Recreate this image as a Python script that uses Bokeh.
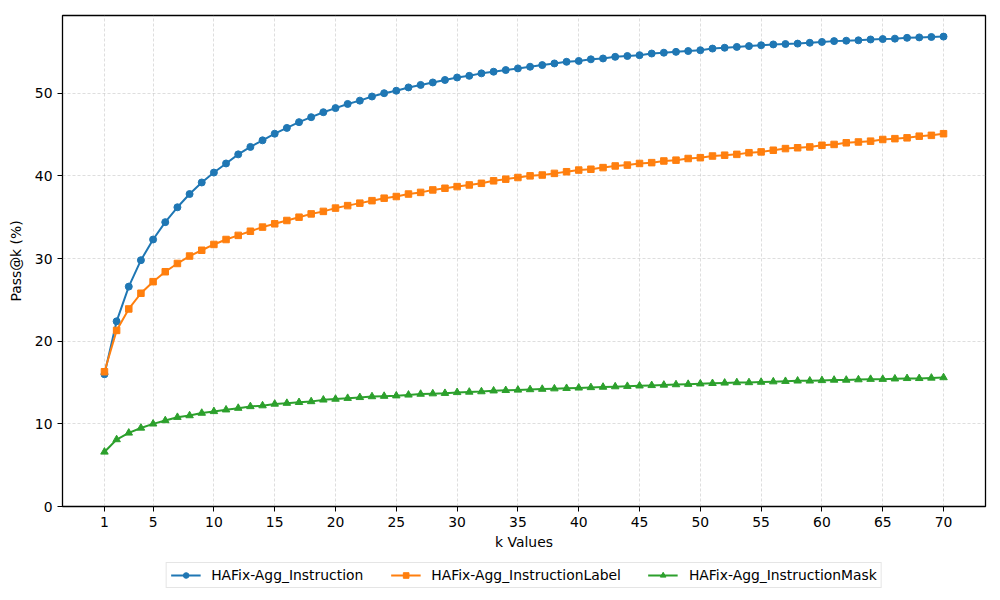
from bokeh.plotting import figure
from bokeh.layouts import column
from bokeh.models import Range1d, FixedTicker, Legend, LegendItem
from bokeh.embed import file_html
from bokeh.resources import INLINE

k_values = list(range(1, 71))

instruction = [16.0, 22.4, 26.6, 29.8, 32.3, 34.4, 36.2, 37.8, 39.2, 40.4,
               41.5, 42.6, 43.5, 44.3, 45.1, 45.8, 46.5, 47.1, 47.7, 48.2,
               48.7, 49.1, 49.6, 50.0, 50.3, 50.7, 51.0, 51.3, 51.6, 51.9,
               52.1, 52.4, 52.6, 52.8, 53.0, 53.2, 53.4, 53.6, 53.8, 53.9,
               54.1, 54.2, 54.4, 54.5, 54.6, 54.8, 54.9, 55.0, 55.1, 55.2,
               55.4, 55.5, 55.6, 55.7, 55.8, 55.9, 55.95, 56.0, 56.1, 56.2,
               56.3, 56.35, 56.4, 56.5, 56.55, 56.6, 56.7, 56.75, 56.8, 56.85]

instruction_label = [16.3, 21.3, 23.9, 25.8, 27.2, 28.4, 29.4, 30.3, 31.0, 31.7,
                     32.3, 32.8, 33.3, 33.8, 34.2, 34.6, 35.0, 35.4, 35.7, 36.1,
                     36.4, 36.7, 37.0, 37.3, 37.5, 37.8, 38.0, 38.3, 38.5, 38.7,
                     38.9, 39.1, 39.4, 39.6, 39.8, 40.0, 40.1, 40.3, 40.5, 40.7,
                     40.8, 41.0, 41.2, 41.3, 41.5, 41.6, 41.8, 41.9, 42.1, 42.2,
                     42.4, 42.5, 42.6, 42.8, 42.9, 43.1, 43.3, 43.4, 43.5, 43.7,
                     43.8, 44.0, 44.1, 44.2, 44.4, 44.5, 44.6, 44.8, 44.9, 45.1]

instruction_mask = [6.6, 8.1, 8.9, 9.5, 10.0, 10.4, 10.8, 11.0, 11.3, 11.5,
                    11.7, 11.9, 12.1, 12.2, 12.4, 12.5, 12.6, 12.7, 12.9, 13.0,
                    13.1, 13.2, 13.3, 13.35, 13.4, 13.5, 13.6, 13.65, 13.7, 13.8,
                    13.85, 13.9, 14.0, 14.05, 14.1, 14.15, 14.2, 14.25, 14.3, 14.35,
                    14.4, 14.45, 14.5, 14.55, 14.6, 14.65, 14.7, 14.75, 14.8, 14.85,
                    14.9, 14.95, 15.0, 15.0, 15.05, 15.1, 15.15, 15.2, 15.2, 15.25,
                    15.3, 15.3, 15.35, 15.4, 15.4, 15.45, 15.5, 15.5, 15.55, 15.6]

x_ticks = [1, 5, 10, 15, 20, 25, 30, 35, 40, 45, 50, 55, 60, 65, 70]
y_ticks = [0, 10, 20, 30, 40, 50]

series_names = ["HAFix-Agg_Instruction", "HAFix-Agg_InstructionLabel", "HAFix-Agg_InstructionMask"]
series_values = [instruction, instruction_label, instruction_mask]
colors = ["#1f77b4", "#ff7f0e", "#2ca02c"]
markers = ["circle", "square", "triangle"]
marker_sizes = [7, 6.5, 7.5]

FONT = "DejaVu Sans"
FS = "13.9px"

p = figure(frame_width=923, frame_height=491, output_backend="svg", toolbar_location=None,
           x_range=Range1d(-2.45, 73.45), y_range=Range1d(0, 59.4),
           min_border_left=62, min_border_right=8, min_border_top=15, min_border_bottom=0)

p.outline_line_color = "black"
p.outline_line_width = 1.3
p.outline_line_alpha = 1.0

for ax in (p.xaxis[0], p.yaxis[0]):
    ax.axis_line_color = None
    ax.major_tick_line_color = "black"
    ax.major_tick_out = 5
    ax.major_tick_in = 0
    ax.minor_tick_line_color = None
    ax.major_label_text_font = FONT
    ax.major_label_text_font_size = FS
    ax.major_label_text_color = "black"
    ax.axis_label_text_font = FONT
    ax.axis_label_text_font_size = FS
    ax.axis_label_text_font_style = "normal"
    ax.axis_label_text_color = "black"

p.xaxis.ticker = FixedTicker(ticks=x_ticks)
p.yaxis.ticker = FixedTicker(ticks=y_ticks)
p.xaxis.axis_label = "k Values"
p.yaxis.axis_label = "Pass@k (%)"
p.xaxis.axis_label_standoff = 4
p.yaxis.axis_label_standoff = 8

for g in (p.xgrid[0], p.ygrid[0]):
    g.grid_line_color = "#b0b0b0"
    g.grid_line_dash = "3 2"
    g.grid_line_width = 0.6
    g.grid_line_alpha = 0.7

for vals, c, m, s in zip(series_values, colors, markers, marker_sizes):
    p.line(k_values, vals, line_color=c, line_width=2)
    p.scatter(k_values, vals, marker=m, size=s, fill_color=c, line_color=c)

# Legend strip below the chart (a separate, axis-less figure)
lg = figure(frame_width=923, frame_height=46, output_backend="svg", toolbar_location=None,
            x_range=Range1d(1000, 1001), y_range=Range1d(1000, 1001),
            x_axis_location=None, y_axis_location=None,
            min_border_left=62, min_border_right=8, min_border_top=0, min_border_bottom=0)
lg.outline_line_color = None
lg.xgrid.visible = False
lg.ygrid.visible = False

items = []
for name, vals, c, m, s in zip(series_names, series_values, colors, markers, marker_sizes):
    rl = lg.line(k_values, vals, line_color=c, line_width=2)
    rm = lg.scatter(k_values, vals, marker=m, size=s, fill_color=c, line_color=c)
    items.append(LegendItem(label=name, renderers=[rl, rm]))

legend = Legend(items=items, orientation="horizontal", location="center",
                label_text_font=FONT, label_text_font_size=FS, label_text_color="black",
                border_line_color="#cccccc", border_line_width=1,
                background_fill_alpha=1.0, padding=4, spacing=27,
                glyph_width=30, glyph_height=14, label_standoff=11,
                margin=0)
lg.add_layout(legend, "center")

layout = column(p, lg, spacing=0)
open("out.html", "w").write(file_html(layout, INLINE))
